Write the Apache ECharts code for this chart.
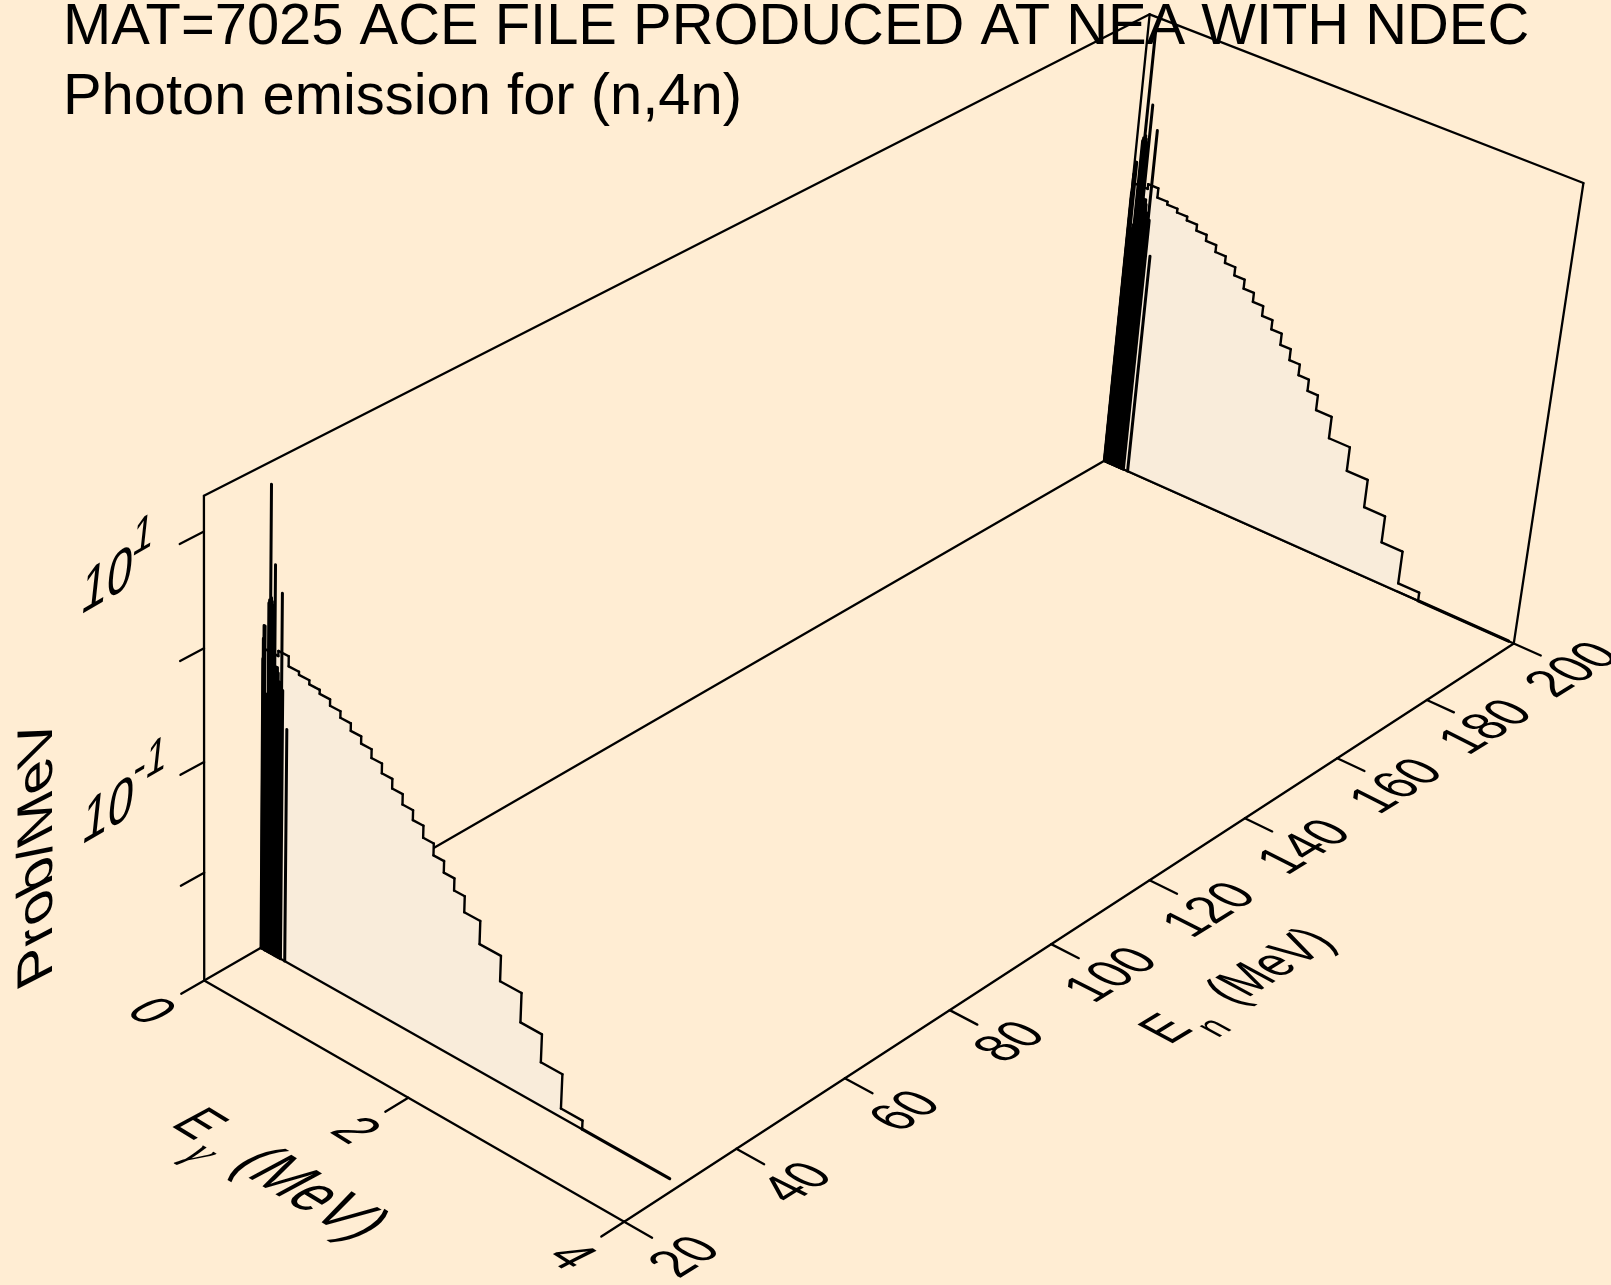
<!DOCTYPE html>
<html><head><meta charset="utf-8">
<style>html,body{margin:0;padding:0;background:#FFEDD3}#c{width:1611px;height:1285px}</style>
<script src="https://cdn.jsdelivr.net/npm/echarts@6/dist/echarts.min.js"></script>
</head><body><div id="c"></div>
<script>
// ---------- data ----------
const titleLines = ['MAT=7025 ACE FILE PRODUCED AT NEA WITH NDEC', 'Photon emission for (n,4n)'];
const spectraEn = [200, 30];
const spectraEnd = [3.95, 3.9];
const stepEdges = [.03,.15,.25,.35,.45,.55,.65,.75,.85,.95,1.05,1.15,1.25,1.35,1.45,1.55,1.65,1.75,1.85,1.95,2.1,2.3,2.5,2.7,2.9,3.1];
const stepProb = [.535,.594,.485,.456,.42,.387,.34,.298,.256,.221,.185,.152,.125,.101,.0826,.0646,.0507,.04,.0312,.0224,.0139,.0082,.00444,.00247,.0012];
const spikeE = [0,.004,.01,.02,.03,.035,.04,.045,.055,.062,.072,.08,.088,.095,.103,.116,.125,.135,.142,.15,.158,.165,.172,.184,.195,.238];
const spikeProb = [.43,.65,.85,.85,.17,.2,.18,.22,1.4,1.5,14.9,1.6,1.5,1.4,1.3,3.2,.42,.4,.42,.38,.32,.3,.32,1.96,.28,.132];
const enTicks = [20,40,60,80,100,120,140,160,180,200];
const egTicks = [0,2,4];
const probTicks = [10,1,.1,.01];
const egRange = [0,4], enRange = [20,200], probRange = [.001,20];

// ---------- oblique view of the box, fitted to its drawn corners ----------
const viewRefs = [
 [0,0,0,204,980,3],[1,0,0,624,1222,3],[0,1,0,1104,461,3],[1,1,0,1513,643,3],
 [0,0,1,204,496,3],[0,1,1,1150,14,3],[1,1,1,1583,183,3]
];
const enRefs = [[40,736,1148],[60,842,1079],[80,950,1010],[100,1053,943],[120,1151,880],[140,1245,819],[160,1338,759],[180,1429,701]];
enRefs.forEach(r=>viewRefs.push([1,(r[0]-20)/180,0,r[1],r[2],1]));
[[10,532],[1,648],[.1,763],[.01,873]].forEach(r=>viewRefs.push([0,0,(Math.log10(r[0])+3)/(Math.log10(20)+3),204,r[1],1]));
viewRefs.push([.5,0,0,409.6,1096.7,1]);
function solveView(){
  const n=11,A=[...Array(n)].map(()=>Array(n+1).fill(0));
  viewRefs.forEach(r=>{ const [u,v,w,X,Y,k]=r; const x=X/1000,y=Y/1000;
    [[u,v,w,1,0,0,0,0,-x*u,-x*v,-x*w,x],[0,0,0,0,u,v,w,1,-y*u,-y*v,-y*w,y]].forEach(e=>{
      for(let i=0;i<n;i++){for(let j=0;j<n;j++)A[i][j]+=k*e[i]*e[j];A[i][n]+=k*e[i]*e[n];}
    });
  });
  for(let i=0;i<n;i++){let p=i;for(let r=i+1;r<n;r++)if(Math.abs(A[r][i])>Math.abs(A[p][i]))p=r;
    [A[i],A[p]]=[A[p],A[i]];
    for(let r=0;r<n;r++){if(r===i)continue;const f=A[r][i]/A[i][i];for(let c=i;c<=n;c++)A[r][c]-=f*A[i][c];}}
  return A.map((r,i)=>r[n]/r[i]);
}
const V = solveView();
function view(u,v,w){const d=V[8]*u+V[9]*v+V[10]*w+1;
  return [1000*(V[0]*u+V[1]*v+V[2]*w+V[3])/d,1000*(V[4]*u+V[5]*v+V[6]*w+V[7])/d];}

// ---------- chart ----------
const chart = echarts.init(document.getElementById('c'),null,{renderer:'canvas'});
const INK='#000';
// Library scales carry each value to a 0..1 fraction: hidden axes span a 1000 px square
function project(api,eg,en,p){
  const c=api.coord([eg,p]);
  const e=chart.convertToPixel({xAxisIndex:1},en);
  return view(c[0]/1000,e/1000,(1000-c[1])/1000);
}
function seg(a,b,w){return {type:'polyline',shape:{points:[a,b]},style:{stroke:INK,lineWidth:w,fill:null,lineCap:'round'},silent:true};}
const base={type:'custom',coordinateSystem:'cartesian2d',xAxisIndex:0,yAxisIndex:0,clip:false,silent:true,animation:false,encode:{x:0,y:1}};

// frame edges: [eg0,prob0,en0,eg1,prob1,en1]
const [e0,e1]=egRange,[n0,n1]=enRange,[p0,p1]=probRange;
const frameRows=[[e0,p0,n0,e1,p0,n0],[e1,p0,n0,e1,p0,n1],[e1,p0,n1,e0,p0,n1],[e0,p0,n1,e0,p0,n0],
 [e0,p0,n0,e0,p1,n0],[e0,p1,n0,e0,p1,n1],[e0,p1,n1,e0,p0,n1],[e0,p1,n1,e1,p1,n1],[e1,p1,n1,e1,p0,n1]];
enTicks.forEach(n=>frameRows.push([e1,p0,n,4.25,p0,n]));
egTicks.forEach(e=>frameRows.push([e,p0,n0,e,p0,16]));
probTicks.forEach(p=>frameRows.push([e0,p,n0,e0,p,16]));
const series=[];
series.push(Object.assign({},base,{name:'frame',data:frameRows,renderItem(par,api){
  const v=i=>api.value(i);
  return seg(project(api,v(0),v(2),v(1)),project(api,v(3),v(5),v(4)),2.3);
}}));

spectraEn.forEach((en,k)=>{
  // fill (stops before the last, tiny bin)
  const outline=[];
  stepProb.forEach((p,i)=>{ if(i<stepProb.length-1){outline.push([stepEdges[i],p],[stepEdges[i+1],p]);} });
  series.push(Object.assign({},base,{name:'fill En='+en,data:outline,renderItem(par,api){
    if(par.dataIndex!==0) return null;
    const pts=outline.map(r=>project(api,r[0],en,r[1]));
    const last=outline[outline.length-1][0];
    pts.push(project(api,last,en,p0),project(api,outline[0][0],en,p0));
    return {type:'polygon',shape:{points:pts},style:{fill:'#F9ECDA',stroke:null},silent:true};
  }}));
  // floor line
  series.push(Object.assign({},base,{name:'base En='+en,data:[[0,p0,3.1,2.3],[3.1,p0,spectraEnd[k],3.2]],renderItem(par,api){
    return seg(project(api,api.value(0),en,p0),project(api,api.value(2),en,p0),api.value(3));
  }}));
  // spikes
  series.push(Object.assign({},base,{name:'lines En='+en,data:spikeE.map((e,i)=>[e,spikeProb[i]]),renderItem(par,api){
    return seg(project(api,api.value(0),en,p0),project(api,api.value(0),en,api.value(1)),3);
  }}));
  // stepped continuum
  const verts=[];
  stepProb.forEach((p,i)=>{verts.push([stepEdges[i],p],[stepEdges[i+1],p]);});
  verts.push([stepEdges[stepEdges.length-1],p0]);
  series.push(Object.assign({},base,{name:'continuum En='+en,data:verts,renderItem(par,api){
    const i=par.dataIndex; if(i===0) return null;
    return seg(project(api,verts[i-1][0],en,verts[i-1][1]),project(api,verts[i][0],en,verts[i][1]),2.4);
  }}));
});

// ---------- text ----------
const FONT='"Liberation Sans",Arial,sans-serif';
const floorX={b:[.82,.5],u:[1.11,-.6]};      // lies on floor, runs along the gamma axis
const floorY={b:[.82,-.5],u:[-1.11,-.6]};    // lies on floor, runs along the neutron axis
const tickY={b:[.88,-.55],u:[-1.11,-.56]};   // neutron-axis tick labels
const tickX={b:[.88,.55],u:[1.11,-.56]};     // gamma-axis tick labels
const onWall={b:[.866,-.5],u:[.13,-1.2]};    // lies on left wall
const onSide={b:[.0001,-1],u:[-.85,.44]};    // runs up the vertical axis
const texts=[];
function put(t,x,y,size,fr,extra){texts.push(Object.assign({t,x,y,size,fr},extra||{}));}
put(titleLines[0],63,28,57.9,null,{align:'left'});
put(titleLines[1],63,98,57.9,null,{align:'left'});
put('Prob/MeV',38,852,59,onSide);
put('10',107,583,53,onWall); put('1',143,537,43,onWall);
put('10',108,813,53,onWall); put('-1',150,763,43,onWall);
put('E',197,1125,48,floorX); put('\u03B3',200,1154,42,floorX,{font:'italic 42px "Liberation Serif",serif'}); put('(MeV)',309,1195,56,floorX);
put('E',1168,1030,46,floorY); put('n',1215,1028,34,floorY); put('(MeV)',1272,967,46,floorY);
egTicks.forEach(e=>{const q=view(e/4,-.053,0);put(String(e),q[0],q[1],46,tickX);});
enTicks.forEach(n=>{const q=view(1.14,(n-20)/180,0);put(String(n),q[0],q[1],46,tickY);});
function textEl(o){
  const el={type:'text',x:o.x,y:o.y,silent:true,style:{text:o.t,fill:INK,font:o.font||(o.size+'px '+FONT),align:o.align||'center',verticalAlign:'middle'}};
  if(o.fr){const b=o.fr.b,u=o.fr.u;el.scaleX=b[0];el.scaleY=-u[1];el.skewY=-Math.atan(b[1]/b[0]);el.skewX=Math.atan(u[0]/u[1]);}
  return el;
}
series.push(Object.assign({},base,{name:'text',data:texts.map((t,i)=>[i,0.01]),renderItem(par){return textEl(texts[par.dataIndex]);}}));

chart.setOption({
  backgroundColor:'#FFEDD3',animation:false,tooltip:{show:false},legend:{show:false},
  grid:{left:0,top:0,width:1000,height:1000,show:false},
  xAxis:[{type:'value',min:e0,max:e1,show:false,gridIndex:0},{type:'value',min:n0,max:n1,show:false,gridIndex:0,position:'top'}],
  yAxis:[{type:'log',logBase:10,min:p0,max:p1,show:false,gridIndex:0}],
  series
});
</script></body></html>
